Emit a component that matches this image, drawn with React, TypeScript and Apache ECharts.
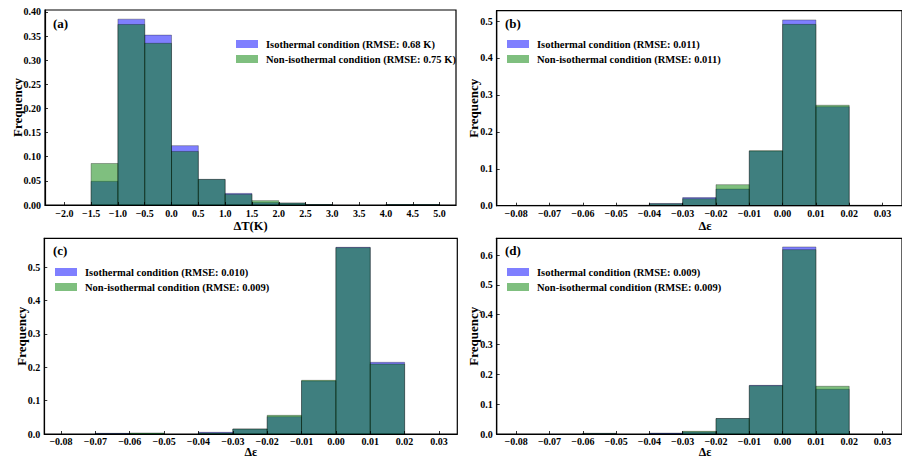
import React, { useEffect, useRef } from "react";
import * as echarts from "echarts";

const FONT = "'Liberation Serif', 'Times New Roman', serif";

// ---- data ----
const edgesT = [-2.0, -1.5, -1.0, -0.5, 0.0, 0.5, 1.0, 1.5, 2.0, 2.5, 3.0, 3.5, 4.0, 4.5, 5.0];
const isoA = [0, 0.049, 0.385, 0.352, 0.123, 0.053, 0.024, 0.005, 0.004, 0.001, 0, 0, 0.001, 0.001];
const nonA = [0, 0.086, 0.374, 0.335, 0.111, 0.053, 0.022, 0.009, 0.004, 0.001, 0, 0, 0.001, 0.001];

const edgesE = [-0.08, -0.07, -0.06, -0.05, -0.04, -0.03, -0.02, -0.01, 0.0, 0.01, 0.02, 0.03];
const isoB = [0.001, 0, 0, 0.001, 0.006, 0.022, 0.045, 0.148, 0.503, 0.268, 0.001];
const nonB = [0, 0.002, 0, 0.001, 0.005, 0.019, 0.057, 0.149, 0.491, 0.272, 0.001];
const isoC = [0, 0.002, 0.001, 0, 0.005, 0.015, 0.052, 0.159, 0.560, 0.215, 0];
const nonC = [0, 0.001, 0.003, 0, 0.003, 0.015, 0.056, 0.161, 0.559, 0.210, 0];
const isoD = [0, 0, 0.002, 0, 0.003, 0.007, 0.052, 0.163, 0.627, 0.150, 0];
const nonD = [0, 0, 0.002, 0, 0.001, 0.009, 0.052, 0.162, 0.618, 0.160, 0];

const xTicksT = [-2.0, -1.5, -1.0, -0.5, 0.0, 0.5, 1.0, 1.5, 2.0, 2.5, 3.0, 3.5, 4.0, 4.5, 5.0];
const xTicksE = [-0.08, -0.07, -0.06, -0.05, -0.04, -0.03, -0.02, -0.01, 0.0, 0.01, 0.02, 0.03];
const yTicksA = [0, 0.05, 0.1, 0.15, 0.2, 0.25, 0.3, 0.35, 0.4];
const yTicksB = [0, 0.1, 0.2, 0.3, 0.4, 0.5];
const yTicksC = [0, 0.1, 0.2, 0.3, 0.4, 0.5];
const yTicksD = [0, 0.1, 0.2, 0.3, 0.4, 0.5, 0.6];

const panelLabels = ["(a)", "(b)", "(c)", "(d)"];
const isoNames = [
  "Isothermal condition (RMSE: 0.68 K)",
  "Isothermal condition (RMSE: 0.011)",
  "Isothermal condition (RMSE: 0.010)",
  "Isothermal condition (RMSE: 0.009)",
];
const nonNames = [
  "Non-isothermal condition (RMSE: 0.75 K)",
  "Non-isothermal condition (RMSE: 0.011)",
  "Non-isothermal condition (RMSE: 0.009)",
  "Non-isothermal condition (RMSE: 0.009)",
];
const xTitles = ["ΔT(K)", "Δε", "Δε", "Δε"];
const yTitle = "Frequency";

const BLUE = "rgba(0,0,255,0.5)";
const GREEN = "rgba(0,128,0,0.5)";

const hist = (edges: number[], vals: number[]) =>
  vals.map((v, i) => [edges[i], edges[i + 1], v]);

const fmtMinus = (s: string) => s.replace("-", "\u2212");

export default function App() {
  const ref = useRef<HTMLDivElement>(null);
  useEffect(() => {
    if (!ref.current) return;
    const chart = echarts.init(ref.current, null, { renderer: "svg" });

    const panels = [
      {
        grid: { left: 45, top: 10, width: 411, height: 195 },
        xMin: -2.36, xMax: 5.306, xTicks: xTicksT, xDec: 1,
        yMax: 0.404, yTicks: yTicksA, yDec: 2,
        edges: edgesT, iso: isoA, non: nonA,
        legend: { left: 231, top: 33 },
        label: [53, 23], yTitleX: 17, xTitleY: 226, xTitleSize: 12.5, xMargin: 3,
      },
      {
        grid: { left: 496.7, top: 10.7, width: 414.6, height: 195 },
        xMin: -0.08585, xMax: 0.03585, xTicks: xTicksE, xDec: 2,
        yMax: 0.528, yTicks: yTicksB, yDec: 1,
        edges: edgesE, iso: isoB, non: nonB,
        legend: { left: 502, top: 33 },
        label: [505, 23], yTitleX: 473, xTitleY: 226, xTitleSize: 12.5, xMargin: 3,
      },
      {
        grid: { left: 44.3, top: 238.3, width: 413, height: 195.7 },
        xMin: -0.08486, xMax: 0.03533, xTicks: xTicksE, xDec: 2,
        yMax: 0.587, yTicks: yTicksC, yDec: 1,
        edges: edgesE, iso: isoC, non: nonC,
        legend: { left: 50, top: 261 },
        label: [53, 250], yTitleX: 21, xTitleY: 451.5, xTitleSize: 12, xMargin: 2,
      },
      {
        grid: { left: 496.7, top: 238.3, width: 414.6, height: 195.7 },
        xMin: -0.08585, xMax: 0.03585, xTicks: xTicksE, xDec: 2,
        yMax: 0.656, yTicks: yTicksD, yDec: 1,
        edges: edgesE, iso: isoD, non: nonD,
        legend: { left: 502, top: 261 },
        label: [505, 250], yTitleX: 473, xTitleY: 451.5, xTitleSize: 12, xMargin: 2,
      },
    ];

    const tickFont = {
      fontFamily: FONT, fontWeight: "bold" as const, fontSize: 10, color: "#000",
    };

    const makeRender = (color: string) => (params: any, api: any) => {
      const x0 = api.value(0), x1 = api.value(1), y = api.value(2);
      if (!(y > 0)) return { type: "group", children: [] };
      const a = api.coord([x0, 0]);
      const b = api.coord([x1, y]);
      return {
        type: "rect",
        shape: { x: a[0], y: b[1], width: b[0] - a[0], height: a[1] - b[1] },
        style: { fill: color, stroke: "rgba(0,0,0,0.5)", lineWidth: 0.6 },
      };
    };

    const grids: any[] = [];
    const xAxes: any[] = [];
    const yAxes: any[] = [];
    const series: any[] = [];
    const legends: any[] = [];
    const graphics: any[] = [];

    panels.forEach((p, i) => {
      grids.push({
        ...p.grid, show: true, borderColor: "#000", borderWidth: 1.2,
        backgroundColor: "transparent", containLabel: false,
      });
      xAxes.push({
        type: "value", gridIndex: i, min: p.xMin, max: p.xMax, z: 5,
        splitLine: { show: false },
        axisLine: { show: true, onZero: false, lineStyle: { color: "#000", width: 1.2 } },
        axisTick: { show: true, inside: true, length: 3, customValues: p.xTicks, lineStyle: { color: "#000", width: 0.8 } },
        axisLabel: {
          ...tickFont, margin: p.xMargin, customValues: p.xTicks,
          formatter: (v: number) => fmtMinus(v.toFixed(p.xDec)),
        },
      });
      yAxes.push({
        type: "value", gridIndex: i, min: 0, max: p.yMax, z: 5,
        splitLine: { show: false },
        axisLine: { show: true, onZero: false, lineStyle: { color: "#000", width: 1.2 } },
        axisTick: { show: true, inside: true, length: 3, customValues: p.yTicks, lineStyle: { color: "#000", width: 0.8 } },
        axisLabel: {
          ...tickFont, margin: 4, customValues: p.yTicks,
          formatter: (v: number) => v.toFixed(p.yDec),
        },
      });
      series.push({
        type: "custom", name: isoNames[i], xAxisIndex: i, yAxisIndex: i,
        renderItem: makeRender(BLUE), encode: { x: [0, 1], y: 2 },
        itemStyle: { color: BLUE }, data: hist(p.edges, p.iso), z: 2,
      });
      series.push({
        type: "custom", name: nonNames[i], xAxisIndex: i, yAxisIndex: i,
        renderItem: makeRender(GREEN), encode: { x: [0, 1], y: 2 },
        itemStyle: { color: GREEN }, data: hist(p.edges, p.non), z: 3,
      });
      legends.push({
        left: p.legend.left, top: p.legend.top, orient: "vertical",
        itemWidth: 22, itemHeight: 8, itemGap: 3, padding: 5,
        selectedMode: false,
        data: [
          { name: isoNames[i], icon: "rect", itemStyle: { color: BLUE, borderWidth: 0 } },
          { name: nonNames[i], icon: "rect", itemStyle: { color: GREEN, borderWidth: 0 } },
        ],
        textStyle: {
          fontFamily: FONT, fontWeight: "bold", fontSize: 10.5, color: "#000",
          lineHeight: 12, padding: [0, 0, 0, 3],
        },
      });
      graphics.push({
        type: "text", x: p.label[0], y: p.label[1], z: 10,
        style: {
          text: panelLabels[i], fontFamily: FONT, fontWeight: "bold", fontSize: 13, fill: "#000",
          textAlign: "left", textVerticalAlign: "middle",
        },
      });
      graphics.push({
        type: "text", x: p.yTitleX, y: p.grid.top + p.grid.height / 2, rotation: Math.PI / 2, z: 10,
        style: {
          text: yTitle, fontFamily: FONT, fontWeight: "bold", fontSize: 13, fill: "#000",
          textAlign: "center", textVerticalAlign: "middle",
        },
      });
      const xc = i % 2 === 0 ? p.grid.left + p.grid.width / 2 : 705;
      graphics.push({
        type: "text", x: xc, y: p.xTitleY, z: 10,
        style: {
          text: xTitles[i], fontFamily: FONT, fontWeight: "bold", fontSize: p.xTitleSize, fill: "#000",
          textAlign: "center", textVerticalAlign: "middle",
        },
      });
    });

    chart.setOption({
      animation: false,
      backgroundColor: "#fff",
      grid: grids,
      xAxis: xAxes,
      yAxis: yAxes,
      series,
      legend: legends,
      graphic: graphics,
    });
    return () => chart.dispose();
  }, []);

  return (
    <div
      ref={ref}
      style={{ position: "absolute", left: 0, top: 0, width: 902, height: 457, background: "#fff" }}
    />
  );
}
